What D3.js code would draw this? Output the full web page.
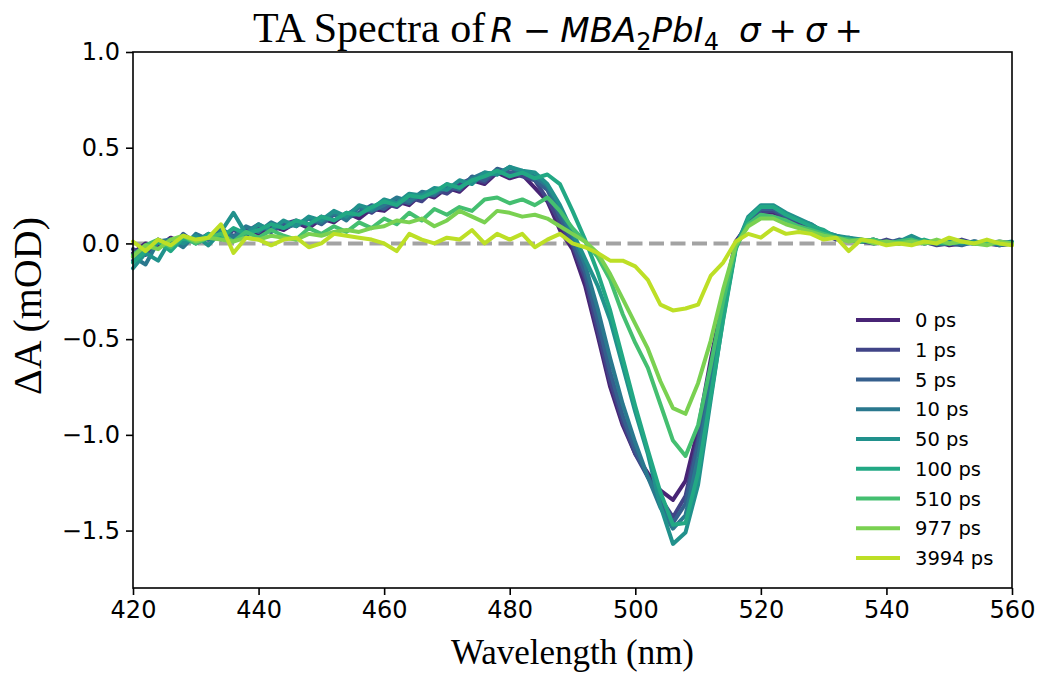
<!DOCTYPE html>
<html>
<head>
<meta charset="utf-8">
<script src="https://cdn.jsdelivr.net/npm/d3@7"></script>
<style>
  html, body { margin: 0; padding: 0; background: #fff; }
  svg { display: block; }
  .tick text { font-family: "DejaVu Sans", sans-serif; font-size: 24px; fill: #000; }
  .tick line { stroke: #000; stroke-width: 1.6; }
  .serif { font-family: "Liberation Serif", "Times New Roman", serif; }
  .legend text { font-family: "DejaVu Sans", sans-serif; font-size: 19.5px; }
</style>
</head>
<body>
<div id="chart"></div>
<script>
// wavelength grid (nm)
const wavelength = [420, 422, 424, 426, 428, 430, 432, 434, 436, 438, 440, 442, 444, 446, 448, 450,
  452, 454, 456, 458, 460, 462, 464, 466, 468, 470, 472, 474, 476, 478, 480, 482, 484, 486, 488,
  490, 492, 494, 496, 498, 500, 502, 504, 506, 508, 510, 512, 514, 516, 518, 520, 522, 524, 526,
  528, 530, 532, 534, 536, 538, 540, 542, 544, 546, 548, 550, 552, 554, 556, 558, 560];

const delays = ["0 ps", "1 ps", "5 ps", "10 ps", "50 ps", "100 ps", "510 ps", "977 ps", "3994 ps"];

// ΔA (mOD) per delay
const ps0 = [-0.05, 0.00, -0.02, 0.03, 0.00, 0.04, 0.02, 0.06, 0.03, 0.08,
  0.05, 0.09, 0.07, 0.11, 0.08, 0.13, 0.11, 0.16, 0.13, 0.18,
  0.17, 0.22, 0.20, 0.26, 0.24, 0.29, 0.27, 0.33, 0.31, 0.37,
  0.34, 0.36, 0.29, 0.22, 0.07, -0.03, -0.22, -0.48, -0.75, -0.95,
  -1.10, -1.20, -1.29, -1.34, -1.24, -0.97, -0.61, -0.29, 0.01, 0.10,
  0.16, 0.16, 0.13, 0.10, 0.08, 0.05, 0.03, 0.02, 0.01, 0.02,
  0.00, 0.01, 0.02, 0.00, 0.01, -0.01, 0.00, 0.01, 0.00, -0.01, 0.00];
const ps1 = [-0.03, -0.06, 0.02, -0.01, 0.04, 0.01, 0.05, 0.02, 0.07, 0.04,
  0.09, 0.06, 0.10, 0.12, 0.09, 0.14, 0.12, 0.15, 0.19, 0.16,
  0.21, 0.19, 0.24, 0.22, 0.28, 0.26, 0.31, 0.34, 0.32, 0.38,
  0.37, 0.35, 0.33, 0.23, 0.11, -0.01, -0.18, -0.45, -0.72, -0.93,
  -1.10, -1.22, -1.33, -1.43, -1.32, -1.02, -0.66, -0.32, 0.00, 0.11,
  0.17, 0.17, 0.13, 0.11, 0.08, 0.05, 0.02, 0.03, 0.01, 0.00,
  0.02, 0.00, 0.01, 0.01, -0.01, 0.00, 0.02, 0.00, 0.01, 0.00, 0.00];
const ps5 = [-0.09, -0.02, 0.01, -0.03, 0.05, 0.00, 0.03, 0.07, 0.04, 0.06,
  0.10, 0.06, 0.11, 0.09, 0.13, 0.10, 0.15, 0.13, 0.16, 0.20,
  0.18, 0.23, 0.21, 0.26, 0.25, 0.30, 0.28, 0.35, 0.33, 0.39,
  0.37, 0.38, 0.33, 0.28, 0.14, 0.01, -0.15, -0.40, -0.67, -0.90,
  -1.08, -1.22, -1.35, -1.46, -1.36, -1.05, -0.69, -0.34, -0.01, 0.12,
  0.18, 0.18, 0.14, 0.12, 0.09, 0.05, 0.03, 0.02, 0.01, 0.01,
  0.00, 0.02, 0.01, 0.00, 0.01, 0.00, -0.01, 0.01, 0.00, 0.01, 0.00];
const ps10 = [-0.07, -0.11, 0.01, 0.02, -0.02, 0.05, 0.02, 0.08, 0.03, 0.09,
  0.06, 0.11, 0.08, 0.10, 0.13, 0.11, 0.16, 0.12, 0.19, 0.17,
  0.20, 0.24, 0.22, 0.27, 0.26, 0.31, 0.29, 0.34, 0.37, 0.36,
  0.40, 0.37, 0.35, 0.30, 0.17, 0.04, -0.11, -0.34, -0.60, -0.84,
  -1.04, -1.22, -1.38, -1.49, -1.42, -1.12, -0.74, -0.37, -0.02, 0.13,
  0.19, 0.19, 0.15, 0.12, 0.10, 0.06, 0.04, 0.02, 0.02, 0.00,
  0.01, 0.00, 0.02, 0.01, 0.00, 0.01, 0.00, 0.00, 0.01, -0.01, 0.00];
const ps50 = [-0.13, -0.05, -0.09, 0.02, 0.00, 0.04, -0.01, 0.06, 0.16, 0.05,
  0.10, 0.07, 0.12, 0.09, 0.14, 0.12, 0.17, 0.14, 0.20, 0.18,
  0.23, 0.21, 0.26, 0.25, 0.29, 0.28, 0.33, 0.31, 0.37, 0.36,
  0.40, 0.38, 0.37, 0.31, 0.20, 0.06, -0.08, -0.22, -0.40, -0.64,
  -0.88, -1.10, -1.37, -1.57, -1.51, -1.26, -0.82, -0.39, -0.02, 0.14,
  0.20, 0.20, 0.16, 0.13, 0.10, 0.06, 0.04, 0.03, 0.02, 0.01,
  0.00, 0.01, 0.04, 0.01, 0.00, 0.01, 0.00, 0.01, 0.00, 0.00, 0.01];
const ps100 = [-0.10, -0.04, 0.01, -0.04, 0.03, 0.00, 0.05, 0.03, 0.08, 0.05,
  0.07, 0.10, 0.08, 0.12, 0.10, 0.14, 0.12, 0.16, 0.15, 0.19,
  0.22, 0.20, 0.25, 0.24, 0.27, 0.31, 0.29, 0.33, 0.35, 0.38,
  0.35, 0.37, 0.34, 0.36, 0.31, 0.17, 0.02, -0.15, -0.35, -0.60,
  -0.85, -1.08, -1.30, -1.47, -1.46, -1.20, -0.80, -0.40, -0.03, 0.13,
  0.19, 0.19, 0.15, 0.12, 0.09, 0.07, 0.03, 0.02, 0.01, 0.02,
  0.00, 0.01, 0.00, 0.02, 0.00, 0.00, 0.01, 0.00, 0.01, 0.00, 0.00];
const ps510 = [-0.06, -0.01, 0.02, -0.02, 0.04, 0.00, 0.03, 0.05, 0.01, 0.06,
  0.03, 0.07, 0.04, 0.02, 0.08, 0.05, 0.09, 0.06, 0.11, 0.08,
  0.13, 0.10, 0.16, 0.12, 0.18, 0.15, 0.19, 0.17, 0.23, 0.24,
  0.21, 0.23, 0.20, 0.24, 0.17, 0.08, 0.01, -0.07, -0.19, -0.37,
  -0.52, -0.65, -0.84, -1.03, -1.11, -0.95, -0.64, -0.30, -0.02, 0.10,
  0.15, 0.14, 0.12, 0.09, 0.07, 0.05, 0.03, 0.02, 0.01, 0.02,
  0.00, 0.01, 0.02, 0.00, 0.01, 0.00, 0.01, 0.00, 0.01, 0.00, 0.00];
const ps977 = [-0.07, -0.01, -0.03, 0.02, 0.04, 0.01, 0.03, 0.02, 0.01, 0.03,
  0.02, 0.04, 0.03, 0.02, 0.05, 0.04, 0.06, 0.07, 0.06, 0.08,
  0.09, 0.12, 0.11, 0.13, 0.09, 0.12, 0.17, 0.14, 0.11, 0.17,
  0.16, 0.14, 0.15, 0.13, 0.09, 0.05, 0.01, -0.05, -0.16, -0.29,
  -0.42, -0.55, -0.72, -0.86, -0.89, -0.73, -0.51, -0.24, -0.01, 0.09,
  0.13, 0.13, 0.10, 0.08, 0.06, 0.04, 0.03, 0.01, 0.02, 0.00,
  0.01, 0.00, 0.01, 0.00, 0.02, 0.00, 0.01, 0.00, -0.01, 0.01, 0.00];
const ps3994 = [0.01, -0.04, 0.02, -0.01, 0.04, 0.02, 0.03, 0.10, -0.05, 0.03,
  0.02, -0.01, 0.02, 0.03, -0.02, 0.00, 0.05, 0.04, 0.03, 0.02,
  0.00, -0.04, 0.05, 0.02, 0.00, 0.03, 0.02, 0.07, 0.00, 0.05,
  0.02, 0.05, -0.02, 0.02, 0.05, 0.00, -0.02, -0.05, -0.09, -0.09,
  -0.12, -0.19, -0.32, -0.35, -0.34, -0.32, -0.17, -0.10, 0.01, 0.05,
  0.03, 0.08, 0.05, 0.06, 0.05, 0.02, 0.03, -0.04, 0.02, 0.01,
  -0.01, 0.00, -0.01, 0.01, 0.00, 0.03, 0.01, 0.00, 0.02, 0.00, -0.01];

const series = [ps0, ps1, ps5, ps10, ps50, ps100, ps510, ps977, ps3994];
const xTicks = [420, 440, 460, 480, 500, 520, 540, 560];
const yTicks = [-1.5, -1.0, -0.5, 0.0, 0.5, 1.0];

const margin = { top: 52, right: 28, bottom: 85, left: 133 };
const width  = 1040 - margin.left - margin.right;
const height = 673 - margin.top - margin.bottom;

const root = d3.select("#chart")
  .append("svg")
    .attr("width", 1040)
    .attr("height", 673);

const svg = root.append("g")
    .attr("transform", `translate(${margin.left},${margin.top})`);

const x = d3.scaleLinear().domain([420, 560]).range([0, width]);
const y = d3.scaleLinear().domain([-1.8, 1.0]).range([height, 0]);
const color = d3.scaleSequential(d3.interpolateViridis).domain([-1, series.length]);

// zero reference line
svg.append("line")
  .attr("x1", x(420)).attr("x2", x(560))
  .attr("y1", y(0)).attr("y2", y(0))
  .attr("stroke", "#a3a3a3")
  .attr("stroke-width", 4)
  .attr("stroke-dasharray", "15,6.5");

const line = d3.line()
  .x((d, i) => x(wavelength[i]))
  .y(d => y(d));

series.forEach((s, k) => {
  svg.append("path")
    .datum(s)
    .attr("fill", "none")
    .attr("stroke", color(k))
    .attr("stroke-width", 4)
    .attr("stroke-linejoin", "round")
    .attr("stroke-linecap", "round")
    .attr("d", line);
});

// axes
const xAxis = svg.append("g")
  .attr("transform", `translate(0,${height})`)
  .call(d3.axisBottom(x).tickValues(xTicks).tickSize(7).tickPadding(6).tickFormat(d3.format("d")));
const yAxis = svg.append("g")
  .call(d3.axisLeft(y).tickValues(yTicks).tickSize(7).tickPadding(6).tickFormat(d3.format(".1f")));
xAxis.select(".domain").remove();
yAxis.select(".domain").remove();

// frame
svg.append("rect")
  .attr("width", width)
  .attr("height", height)
  .attr("fill", "none")
  .attr("stroke", "#000")
  .attr("stroke-width", 1.6);

// labels
svg.append("text")
  .attr("class", "serif")
  .attr("x", width / 2)
  .attr("y", height + 76)
  .attr("text-anchor", "middle")
  .style("font-size", "35px")
  .text("Wavelength (nm)");

svg.append("text")
  .attr("class", "serif")
  .attr("transform", `translate(-92,${height / 2 - 14}) rotate(-90)`)
  .attr("text-anchor", "middle")
  .style("font-size", "40px")
  .text("ΔA (mOD)");

// title: serif text + mathtext-like part
const title = root.append("text")
  .attr("x", 558)
  .attr("y", 42)
  .attr("text-anchor", "middle")
  .style("font-family", "DejaVu Sans, sans-serif")
  .style("font-size", "34px");

// [text, italic?, dx, dy, size]
[
  ["TA Spectra of", false, 0, 0, "serif"],
  ["R", true, 5, 0],
  ["−", false, 9, 0],
  ["MBA", true, 9, 0],
  ["2", false, 0, 8, "sub"],
  ["PbI", true, 0, -8],
  ["4", false, 0, 8, "sub"],
  ["σ", true, 20, -8],
  ["+", false, 8, 0],
  ["σ", true, 8, 0],
  ["+", false, 8, 0]
].forEach(([t, it, dx, dy, kind]) => {
  const ts = title.append("tspan")
    .style("font-style", it ? "italic" : "normal")
    .attr("dx", dx)
    .attr("dy", dy)
    .text(t);
  if (kind === "serif") ts.attr("class", "serif").style("font-size", "42px");
  if (kind === "sub") ts.style("font-size", "24px");
});

// legend
const legend = svg.append("g")
  .attr("class", "legend")
  .attr("transform", `translate(${width - 156}, 268)`);

delays.forEach((label, k) => {
  const ly = k * 29.75;
  legend.append("line")
    .attr("x1", 0).attr("x2", 44)
    .attr("y1", ly).attr("y2", ly)
    .attr("stroke", color(k))
    .attr("stroke-width", 4);
  legend.append("text")
    .attr("x", 59).attr("y", ly + 7)
    .text(label);
});
</script>
</body>
</html>
